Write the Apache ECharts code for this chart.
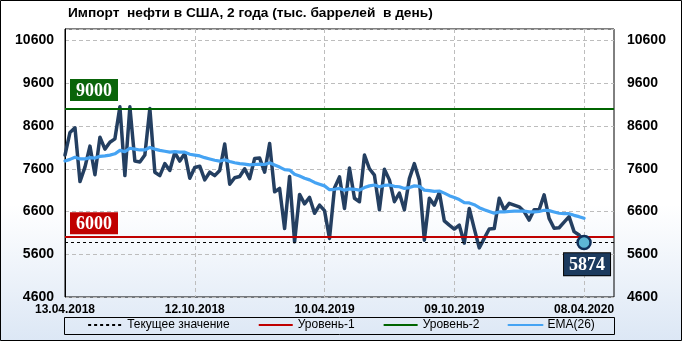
<!DOCTYPE html>
<html><head><meta charset="utf-8">
<script src="https://cdn.jsdelivr.net/npm/echarts@6/dist/echarts.min.js"></script>
<style>html,body{margin:0;padding:0;background:#fff}#c{width:682px;height:341px}</style>
</head><body><div id="c"></div>
<script>
const chartTitle = 'Импорт  нефти в США, 2 года (тыс. баррелей  в день)';
const tickLabels = ['13.04.2018', '12.10.2018', '10.04.2019', '09.10.2019', '08.04.2020'];
const tickStep = 26;       // weeks between x tick labels
const totalSlots = 111;    // weekly slots on the x axis (data + empty space at right)
const seriesNames = ['Текущее значение', 'Уровень-1', 'Уровень-2', 'EMA(26)'];

// weekly imports, thousand barrels per day
const imports = [
  7920, 8450, 8560, 7300, 7640, 8130, 7460, 8340, 8060, 8220,
  8300, 9050, 7440, 9050, 7780, 7760, 7920, 9010, 7520, 7440,
  7720, 7560, 7980, 7780, 7960, 7380, 7630, 7660, 7340, 7520,
  7440, 7560, 8180, 7240, 7390, 7420, 7600, 7370, 7840, 7850,
  7520, 8190, 7060, 7140, 6200, 7420, 5890, 7000, 6780, 6930,
  6560, 6750, 6620, 5970, 7150, 7410, 6670, 7620, 6910, 6830,
  7920, 7600, 7450, 6640, 7590, 7340, 6830, 7030, 6640, 7370,
  7720, 7330, 5930, 6910, 6750, 7050, 6380, 6280, 6190, 6280,
  5860, 6670, 6200, 5750, 5970, 6190, 6200, 6910, 6640, 6790,
  6750, 6710, 6600, 6400, 6640, 6640, 6990, 6440, 6210, 6220,
  6350, 6480, 6130, 6050, 5874
];
const ema26 = [
  7780, 7820, 7870, 7830, 7830, 7860, 7850, 7890, 7900, 7920,
  7950, 8030, 8000, 8080, 8060, 8040, 8040, 8100, 8060, 8030,
  8010, 7990, 8000, 7990, 7990, 7940, 7920, 7900, 7860, 7830,
  7800, 7780, 7810, 7770, 7740, 7720, 7710, 7690, 7700, 7710,
  7700, 7740, 7690, 7640, 7580, 7570, 7470, 7430, 7380, 7340,
  7280, 7240, 7200, 7110, 7120, 7140, 7100, 7130, 7120, 7100,
  7160, 7200, 7220, 7180, 7210, 7220, 7190, 7180, 7140, 7160,
  7200, 7190, 7100, 7090, 7070, 7080, 7030, 6970, 6930, 6880,
  6810, 6800, 6760, 6690, 6640, 6600, 6560, 6590, 6590, 6600,
  6610, 6610, 6610, 6590, 6590, 6600, 6630, 6620, 6590, 6560,
  6550, 6550, 6510, 6480, 6440
];
const level1 = 6000;
const level2 = 9000;
const currentValue = 5874;
const yMin = 4600, yMax = 10870, yStep = 1000;

const FONT = 'Liberation Sans';
const SERIF = 'Liberation Serif';
const shift = v => v - yMin;
const cats = Array.from({length: totalSlots}, (_, i) => String(i));
const isTick = i => i % tickStep === 0 && (i / tickStep) < tickLabels.length;
const gridDash = {type: [4, 3], color: '#BDBDBD', width: 1};

const chart = echarts.init(document.getElementById('c'), null, {renderer: 'canvas'});
chart.setOption({
  animation: false,
  backgroundColor: {type: 'linear', x: 0, y: 0, x2: 0, y2: 1,
    colorStops: [{offset: 0, color: '#FFFFFF'}, {offset: 0.6, color: '#FFFFFF'}, {offset: 1, color: '#DCE7F5'}]},
  title: {text: chartTitle, left: 68, top: 6, padding: 0,
    textStyle: {fontFamily: FONT, fontSize: 13.7, fontWeight: 'bold', color: '#000'}},
  grid: {left: 65, right: 68, top: 29, bottom: 44, show: true, borderColor: '#000', borderWidth: 1, backgroundColor: 'transparent'},
  legend: {left: 'center', top: 319, itemWidth: 34, itemHeight: 10, itemGap: 28, padding: 0,
    itemStyle: {opacity: 0},
    data: seriesNames, textStyle: {fontFamily: FONT, fontSize: 12, color: '#000'}},
  graphic: [
    {type: 'rect', shape: {x: 64.5, y: 317.5, width: 550, height: 17}, style: {fill: null, stroke: '#000', lineWidth: 1}, silent: true},
    {type: 'rect', shape: {x: 0.5, y: 0.5, width: 681, height: 340}, style: {fill: null, stroke: '#000', lineWidth: 1}, silent: true}
  ],
  xAxis: {type: 'category', data: cats, boundaryGap: false,
    axisLine: {show: false}, axisTick: {show: false},
    axisLabel: {interval: i => isTick(i), formatter: (v, i) => tickLabels[i / tickStep] || '',
      fontFamily: FONT, fontSize: 12, fontWeight: 'bold', color: '#000', margin: 7},
    splitLine: {show: true, interval: i => isTick(i), lineStyle: gridDash}},
  yAxis: [
    {type: 'value', min: 0, max: yMax - yMin, interval: yStep,
      axisLine: {show: true, lineStyle: {color: '#000', width: 1}}, axisTick: {show: false},
      axisLabel: {formatter: v => String(v + yMin), showMaxLabel: false, fontFamily: FONT, fontSize: 14, fontWeight: 'bold', color: '#000', margin: 11},
      splitLine: {show: true, lineStyle: gridDash}},
    {type: 'value', position: 'right', min: 0, max: yMax - yMin, interval: yStep,
      axisLine: {show: false}, axisTick: {show: false},
      axisLabel: {formatter: v => String(v + yMin), showMaxLabel: false, fontFamily: FONT, fontSize: 14, fontWeight: 'bold', color: '#000', margin: 13},
      splitLine: {show: false}}
  ],
  series: [
    {name: seriesNames[0], type: 'line', data: [], symbol: 'none', color: '#000', z: 2,
      lineStyle: {type: [3, 3], width: 1, color: '#000'},
      markLine: {silent: true, symbol: 'none', label: {show: false},
        lineStyle: {type: [3, 3], width: 1, color: '#000'},
        data: [{yAxis: shift(currentValue)}]}},
    {name: seriesNames[1], type: 'line', data: [], symbol: 'none', color: '#C00000', z: 2,
      lineStyle: {width: 2.5, color: '#C00000'},
      markLine: {silent: true, symbol: 'none',
        lineStyle: {type: 'solid', width: 2, color: '#C00000'},
        label: {show: true, position: 'insideStartTop', distance: [5, 3], formatter: String(level1),
          fontFamily: SERIF, fontWeight: 'bold', fontSize: 18, color: '#fff', backgroundColor: '#C00000', padding: [3, 6, 1, 6]},
        data: [{yAxis: shift(level1)}]}},
    {name: seriesNames[2], type: 'line', data: [], symbol: 'none', color: '#006400', z: 2,
      lineStyle: {width: 2.5, color: '#006400'},
      markLine: {silent: true, symbol: 'none',
        lineStyle: {type: 'solid', width: 2, color: '#006400'},
        label: {show: true, position: 'insideStartTop', distance: [5, 8], formatter: String(level2),
          fontFamily: SERIF, fontWeight: 'bold', fontSize: 18, color: '#fff', backgroundColor: '#0A640A', padding: [3, 6, 1, 6]},
        data: [{yAxis: shift(level2)}]}},
    {name: 'Импорт нефти', type: 'line', data: imports.map(shift), symbol: 'none', z: 3,
      color: '#243F61',
      lineStyle: {color: '#243F61', width: 3.5, cap: 'round', join: 'round'},
      markPoint: {silent: true, symbol: 'circle', symbolSize: 13,
        itemStyle: {color: '#5DB7D5', borderColor: '#10305A', borderWidth: 2.5},
        label: {show: true, position: 'bottom', distance: 3, offset: [3, 0], formatter: String(currentValue),
          fontFamily: SERIF, fontWeight: 'bold', fontSize: 18, color: '#fff',
          backgroundColor: '#1B3A5E', borderColor: '#000', borderWidth: 1, padding: [3, 5, 1, 5]},
        data: [{coord: [imports.length - 1, shift(currentValue)]}]}},
    {name: seriesNames[3], type: 'line', data: ema26.map(shift), symbol: 'none', z: 4,
      color: '#45A3F3',
      lineStyle: {color: '#45A3F3', width: 3.2, cap: 'round', join: 'round'}}
  ]
});
</script></body></html>
